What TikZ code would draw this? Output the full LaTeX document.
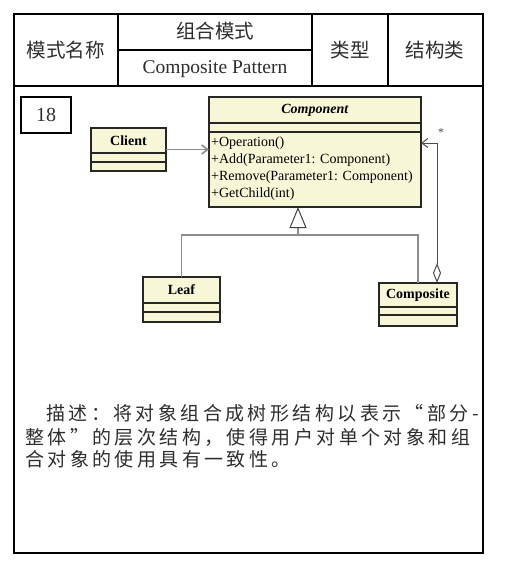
\documentclass[tikz,border=0pt]{standalone}
\usepackage{fontspec}
\setmainfont{Liberation Serif}
\newfontfamily\cjk{Noto Sans CJK SC}
\newfontfamily\cjkdesc[LetterSpace=18]{Noto Sans CJK SC}
\usetikzlibrary{arrows.meta}
\definecolor{umlfill}{RGB}{247,246,214}
\definecolor{conngray}{RGB}{140,140,140}
\definecolor{txtgray}{RGB}{45,45,45}
\tikzset{
  frameline/.style={draw=black, line width=1.1pt},
  hdr/.style={font=\cjk\fontsize{19.5}{22}\selectfont, text=txtgray, inner sep=0pt},
  cls/.style={draw=black!85, fill=umlfill, line width=1.1pt, inner sep=0pt, outer sep=0pt},
  ttl/.style={font=\bfseries\fontsize{14}{16}\selectfont, inner sep=0pt},
  ops/.style={font=\fontsize{14}{17}\selectfont, inner sep=0pt, align=left, anchor=north west},
  conn/.style={draw=conngray, line width=1.6pt},
  aggline/.style={draw=black!70, line width=1pt},
  desc/.style={font=\cjkdesc\fontsize{19}{22}\selectfont, text=txtgray, inner sep=0pt, anchor=west},
  opentip/.style={-{Straight Barb[length=6pt,width=9pt]}}
}
\begin{document}
\begin{tikzpicture}[x=1pt,y=-1pt]
\useasboundingbox (0,0) rectangle (505,576);
\fill[white] (0,0) rectangle (505,576);
% frame and header table
\draw[frameline] (14,14) rectangle (483,553);
\draw[frameline] (14,86) -- (483,86);
\draw[frameline] (118,14) -- (118,86);
\draw[frameline] (312,14) -- (312,86);
\draw[frameline] (388,14) -- (388,86);
\draw[frameline] (118,50) -- (312,50);
\node[hdr] (h1) at (66,50) {模式名称};
\node[hdr] (h2) at (215,31) {组合模式};
\node[font=\fontsize{19.5}{22}\selectfont, text=txtgray, inner sep=0pt] (h3) at (215,69) {Composite Pattern};
\node[hdr] (h4) at (350,50) {类型};
\node[hdr] (h5) at (435,50) {结构类};
% number box
\node[draw=black, line width=1.1pt, minimum width=50pt, minimum height=36pt, font=\fontsize{20}{24}\selectfont, text=txtgray] (num) at (46,115) {18};
% classes
\node[cls, minimum width=75pt, minimum height=43pt] (client) at (128.5,149.5) {};
\draw[line width=1.1pt, draw=black!85] ([yshift=-25pt]client.north west) -- ([yshift=-25pt]client.north east);
\draw[line width=1.1pt, draw=black!85] ([yshift=-34pt]client.north west) -- ([yshift=-34pt]client.north east);
\node[ttl] (clientname) at ([yshift=-12.5pt]client.north) {Client};

\node[cls, minimum width=212pt, minimum height=110pt] (comp) at (315,152) {};
\draw[line width=1.1pt, draw=black!85] ([yshift=-26pt]comp.north west) -- ([yshift=-26pt]comp.north east);
\draw[line width=1.1pt, draw=black!85] ([yshift=-35pt]comp.north west) -- ([yshift=-35pt]comp.north east);
\node[ttl] (compname) at ([yshift=-13pt]comp.north) {\textit{Component}};
\node[ops] (compops) at ([xshift=2pt,yshift=-40pt]comp.north west) {+Operation()\\+Add(Parameter1: Component)\\+Remove(Parameter1: Component)\\+GetChild(int)};

\node[cls, minimum width=77pt, minimum height=45pt] (leaf) at (181.5,299.5) {};
\draw[line width=1.1pt, draw=black!85] ([yshift=-26pt]leaf.north west) -- ([yshift=-26pt]leaf.north east);
\draw[line width=1.1pt, draw=black!85] ([yshift=-35pt]leaf.north west) -- ([yshift=-35pt]leaf.north east);
\node[ttl] (leafname) at ([yshift=-13pt]leaf.north) {Leaf};

\node[cls, minimum width=78pt, minimum height=43pt] (composite) at (418,304.5) {};
\draw[line width=1.1pt, draw=black!85] ([yshift=-24pt]composite.north west) -- ([yshift=-24pt]composite.north east);
\draw[line width=1.1pt, draw=black!85] ([yshift=-32pt]composite.north west) -- ([yshift=-32pt]composite.north east);
\node[ttl] (compositename) at ([yshift=-12pt]composite.north) {Composite};

% connectors
\draw[conn, opentip] (client.east) -- (client.east -| comp.west);
\coordinate (gen) at (298,235);
\draw[conn] (leaf.north) |- (gen) -| (composite.north);
\draw[conn, -{Triangle[open, length=21pt, width=17pt, color=black!75, line width=1pt]}] (gen) -- (gen |- comp.south);
\coordinate (agg) at (437,143);
\draw[aggline, {Diamond[open, length=20pt, width=8pt]}-{Straight Barb[length=6pt,width=9pt]}] (composite.north -| agg) -- (agg) -- (agg -| comp.east);
\node[font=\fontsize{12}{14}\selectfont, text=black!70, inner sep=0pt] (star) at (441,133) {*};

% description
\node[desc] (d1) at (46,413) {描述：将对象组合成树形结构以表示“部分-};
\node[desc] (d2) at (25,437) {整体”的层次结构，使得用户对单个对象和组};
\node[desc] (d3) at (25,459) {合对象的使用具有一致性。};
\end{tikzpicture}
\end{document}
